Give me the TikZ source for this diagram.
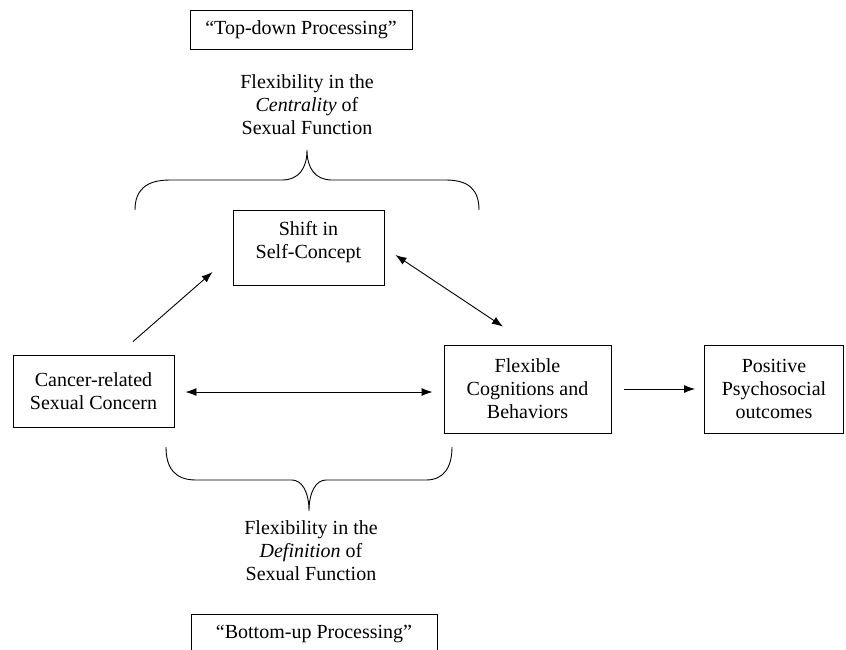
\documentclass[tikz,border=0pt]{standalone}
\usepackage{fontspec}
\setmainfont{Liberation Serif}
\usetikzlibrary{arrows.meta}
\begin{document}
\begin{tikzpicture}[x=1pt,y=-1pt,
  every node/.style={font=\fontsize{20}{23}\selectfont, align=center, inner sep=0pt},
  boxed/.style={draw, line width=0.9pt},
  conn/.style={line width=0.9pt, -{Latex[length=11pt,width=8pt]}},
  dconn/.style={line width=0.9pt, {Latex[length=11pt,width=8pt]}-{Latex[length=11pt,width=8pt]}},
  brace/.style={line width=0.9pt}]
\useasboundingbox (0,0) rectangle (846,649);
\clip (0,0) rectangle (846,649);
% boxes
\node[boxed, minimum width=222pt, minimum height=39pt] (top) at (301,30) {“Top-down Processing”};
\node[boxed, minimum width=151pt, minimum height=75pt] (shift) at (308.5,247.5) {};
\node (shiftT) at (308.5,242) {Shift in\\Self-Concept};
\node[boxed, minimum width=161pt, minimum height=72pt] (cancer) at (93.5,391) {Cancer-related\\Sexual Concern};
\node[boxed, minimum width=167pt, minimum height=88pt] (flex) at (527.5,389) {Flexible\\Cognitions and\\Behaviors};
\node[boxed, minimum width=139pt, minimum height=88pt] (pos) at (774,389) {Positive\\Psychosocial\\outcomes};
\node[boxed, minimum width=246pt, minimum height=40pt] (bottom) at (314,634) {“Bottom-up Processing”};
% labels
\node (central) at (307,105) {\fontsize{20}{24.5}\selectfont Flexibility in the\\\textit{Centrality} of\\Sexual Function};
\node (defin) at (311,551) {\fontsize{20}{24}\selectfont Flexibility in the\\\textit{Definition} of\\Sexual Function};
% braces
\draw[brace] (135,210) .. controls (135,190) and (146,180) .. (170,180) -- (282,180)
  .. controls (299,180) and (307,168) .. (307,150)
  .. controls (307,168) and (315,180) .. (332,180) -- (446,180)
  .. controls (469,180) and (479,190) .. (479,210);
\draw[brace] (166,447) .. controls (166,467) and (174,480) .. (196,480) -- (292,480)
  .. controls (302,480) and (309,492) .. (309,511)
  .. controls (309,492) and (316,480) .. (326,480) -- (426,480)
  .. controls (444,480) and (452,467) .. (452,447);
% connectors
\draw[conn] ([xshift=39.5pt,yshift=13pt]cancer.north) -- ([xshift=-20pt,yshift=-24.5pt]shift.west);
\draw[dconn] ([xshift=11pt,yshift=-7.5pt]shift.east) -- ([xshift=-24.5pt,yshift=18pt]flex.north);
\draw[dconn] ([xshift=11pt,yshift=-1pt]cancer.east) -- ([xshift=-11pt,yshift=-3pt]flex.west);
\draw[conn] ([xshift=13pt]flex.east) -- ([xshift=-9pt]pos.west);
\end{tikzpicture}
\end{document}
